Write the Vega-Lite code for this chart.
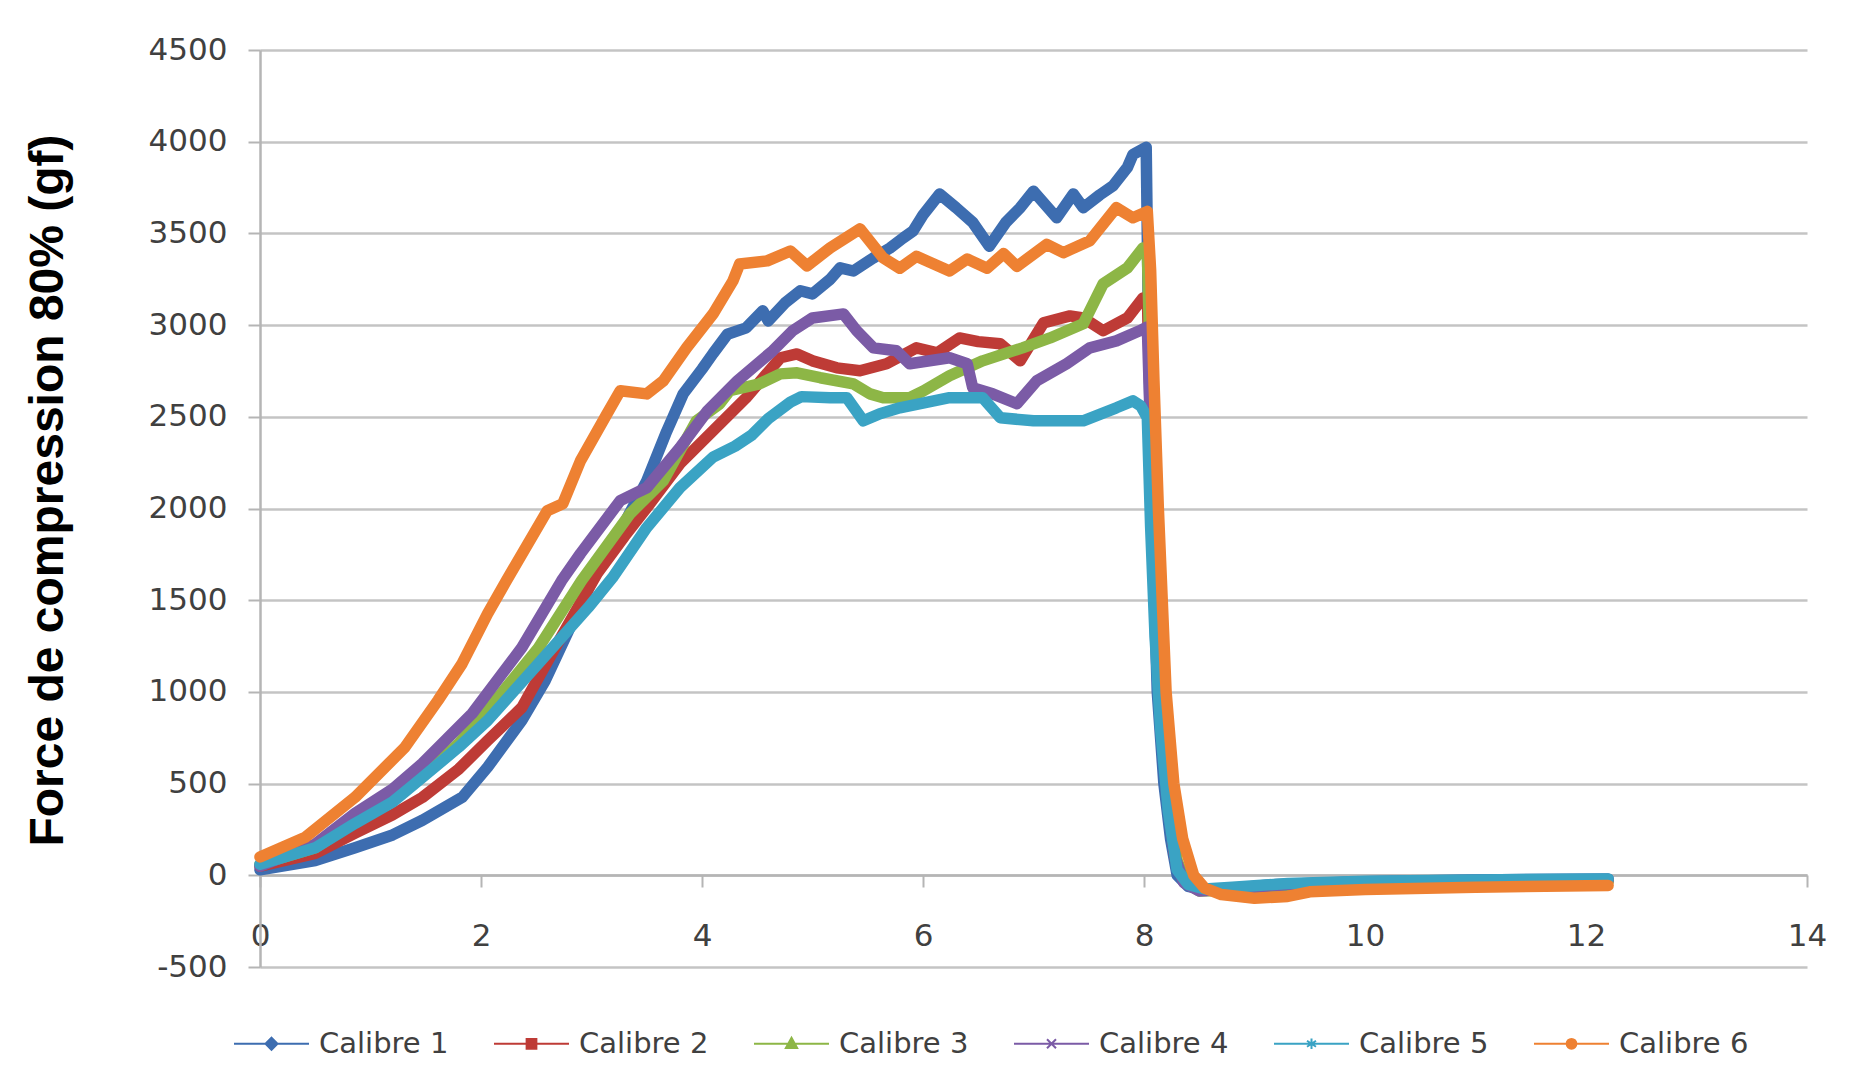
{
  "$schema": "https://vega.github.io/schema/vega-lite/v6.json",
  "width": 1547,
  "height": 917,
  "autosize": {"type": "none"},
  "padding": {"left": 260, "top": 50, "right": 66, "bottom": 123},
  "background": "white",
  "config": {"view": {"stroke": null}, "font": "DejaVu Sans"},
  "datasets": {
    "pts": [
      {"s":"Calibre 1","x":0,"y":30},{"s":"Calibre 1","x":0.5,"y":80},{"s":"Calibre 1","x":0.86,"y":150},{"s":"Calibre 1","x":1.2,"y":220},{"s":"Calibre 1","x":1.47,"y":300},{"s":"Calibre 1","x":1.83,"y":425},{"s":"Calibre 1","x":2.06,"y":590},{"s":"Calibre 1","x":2.37,"y":845},{"s":"Calibre 1","x":2.58,"y":1060},{"s":"Calibre 1","x":2.82,"y":1370},{"s":"Calibre 1","x":3.0,"y":1600},{"s":"Calibre 1","x":3.2,"y":1800},{"s":"Calibre 1","x":3.35,"y":1980},{"s":"Calibre 1","x":3.5,"y":2150},{"s":"Calibre 1","x":3.68,"y":2420},{"s":"Calibre 1","x":3.83,"y":2625},{"s":"Calibre 1","x":4.0,"y":2760},{"s":"Calibre 1","x":4.1,"y":2845},{"s":"Calibre 1","x":4.23,"y":2950},{"s":"Calibre 1","x":4.4,"y":2985},{"s":"Calibre 1","x":4.55,"y":3078},{"s":"Calibre 1","x":4.6,"y":3023},{"s":"Calibre 1","x":4.75,"y":3120},{"s":"Calibre 1","x":4.89,"y":3187},{"s":"Calibre 1","x":5.0,"y":3170},{"s":"Calibre 1","x":5.16,"y":3250},{"s":"Calibre 1","x":5.25,"y":3312},{"s":"Calibre 1","x":5.37,"y":3295},{"s":"Calibre 1","x":5.55,"y":3366},{"s":"Calibre 1","x":5.7,"y":3420},{"s":"Calibre 1","x":5.82,"y":3475},{"s":"Calibre 1","x":5.91,"y":3513},{"s":"Calibre 1","x":6.0,"y":3600},{"s":"Calibre 1","x":6.15,"y":3715},{"s":"Calibre 1","x":6.3,"y":3640},{"s":"Calibre 1","x":6.45,"y":3560},{"s":"Calibre 1","x":6.6,"y":3430},{"s":"Calibre 1","x":6.75,"y":3560},{"s":"Calibre 1","x":6.88,"y":3640},{"s":"Calibre 1","x":7.0,"y":3730},{"s":"Calibre 1","x":7.21,"y":3585},{"s":"Calibre 1","x":7.36,"y":3715},{"s":"Calibre 1","x":7.45,"y":3640},{"s":"Calibre 1","x":7.6,"y":3710},{"s":"Calibre 1","x":7.72,"y":3760},{"s":"Calibre 1","x":7.85,"y":3860},{"s":"Calibre 1","x":7.9,"y":3930},{"s":"Calibre 1","x":8.02,"y":3970},{"s":"Calibre 1","x":8.04,"y":3000},{"s":"Calibre 1","x":8.07,"y":2000},{"s":"Calibre 1","x":8.12,"y":1000},{"s":"Calibre 1","x":8.18,"y":500},{"s":"Calibre 1","x":8.24,"y":200},{"s":"Calibre 1","x":8.3,"y":0},{"s":"Calibre 1","x":8.4,"y":-60},{"s":"Calibre 1","x":8.55,"y":-80},{"s":"Calibre 1","x":8.8,"y":-70},{"s":"Calibre 1","x":9.2,"y":-50},{"s":"Calibre 1","x":10,"y":-35},{"s":"Calibre 1","x":11,"y":-25},{"s":"Calibre 1","x":12.2,"y":-20},

      {"s":"Calibre 2","x":0,"y":50},{"s":"Calibre 2","x":0.5,"y":120},{"s":"Calibre 2","x":0.86,"y":230},{"s":"Calibre 2","x":1.2,"y":330},{"s":"Calibre 2","x":1.47,"y":425},{"s":"Calibre 2","x":1.8,"y":580},{"s":"Calibre 2","x":2.06,"y":735},{"s":"Calibre 2","x":2.37,"y":915},{"s":"Calibre 2","x":2.67,"y":1240},{"s":"Calibre 2","x":3.05,"y":1645},{"s":"Calibre 2","x":3.3,"y":1850},{"s":"Calibre 2","x":3.5,"y":2004},{"s":"Calibre 2","x":3.8,"y":2244},{"s":"Calibre 2","x":4.1,"y":2424},{"s":"Calibre 2","x":4.4,"y":2604},{"s":"Calibre 2","x":4.71,"y":2822},{"s":"Calibre 2","x":4.86,"y":2843},{"s":"Calibre 2","x":5.0,"y":2805},{"s":"Calibre 2","x":5.22,"y":2767},{"s":"Calibre 2","x":5.43,"y":2751},{"s":"Calibre 2","x":5.67,"y":2789},{"s":"Calibre 2","x":5.94,"y":2876},{"s":"Calibre 2","x":6.13,"y":2849},{"s":"Calibre 2","x":6.33,"y":2930},{"s":"Calibre 2","x":6.5,"y":2910},{"s":"Calibre 2","x":6.7,"y":2898},{"s":"Calibre 2","x":6.88,"y":2805},{"s":"Calibre 2","x":7.09,"y":3012},{"s":"Calibre 2","x":7.33,"y":3050},{"s":"Calibre 2","x":7.45,"y":3039},{"s":"Calibre 2","x":7.63,"y":2969},{"s":"Calibre 2","x":7.85,"y":3039},{"s":"Calibre 2","x":7.99,"y":3148},{"s":"Calibre 2","x":8.03,"y":3150},{"s":"Calibre 2","x":8.06,"y":2500},{"s":"Calibre 2","x":8.1,"y":1600},{"s":"Calibre 2","x":8.15,"y":950},{"s":"Calibre 2","x":8.21,"y":450},{"s":"Calibre 2","x":8.28,"y":100},{"s":"Calibre 2","x":8.36,"y":-30},{"s":"Calibre 2","x":8.5,"y":-80},{"s":"Calibre 2","x":8.8,"y":-75},{"s":"Calibre 2","x":9.3,"y":-55},{"s":"Calibre 2","x":10,"y":-45},{"s":"Calibre 2","x":11,"y":-35},{"s":"Calibre 2","x":12.2,"y":-30},

      {"s":"Calibre 3","x":0,"y":60},{"s":"Calibre 3","x":0.5,"y":150},{"s":"Calibre 3","x":0.86,"y":290},{"s":"Calibre 3","x":1.2,"y":420},{"s":"Calibre 3","x":1.47,"y":540},{"s":"Calibre 3","x":1.8,"y":720},{"s":"Calibre 3","x":2.06,"y":900},{"s":"Calibre 3","x":2.52,"y":1240},{"s":"Calibre 3","x":2.91,"y":1607},{"s":"Calibre 3","x":3.35,"y":1972},{"s":"Calibre 3","x":3.65,"y":2152},{"s":"Calibre 3","x":3.95,"y":2478},{"s":"Calibre 3","x":4.16,"y":2571},{"s":"Calibre 3","x":4.25,"y":2642},{"s":"Calibre 3","x":4.52,"y":2680},{"s":"Calibre 3","x":4.71,"y":2734},{"s":"Calibre 3","x":4.86,"y":2740},{"s":"Calibre 3","x":5.07,"y":2713},{"s":"Calibre 3","x":5.37,"y":2680},{"s":"Calibre 3","x":5.52,"y":2625},{"s":"Calibre 3","x":5.64,"y":2604},{"s":"Calibre 3","x":5.88,"y":2604},{"s":"Calibre 3","x":6.0,"y":2640},{"s":"Calibre 3","x":6.24,"y":2724},{"s":"Calibre 3","x":6.54,"y":2805},{"s":"Calibre 3","x":6.9,"y":2876},{"s":"Calibre 3","x":7.15,"y":2930},{"s":"Calibre 3","x":7.45,"y":3007},{"s":"Calibre 3","x":7.63,"y":3225},{"s":"Calibre 3","x":7.85,"y":3312},{"s":"Calibre 3","x":7.99,"y":3420},{"s":"Calibre 3","x":8.03,"y":3400},{"s":"Calibre 3","x":8.06,"y":2700},{"s":"Calibre 3","x":8.1,"y":1800},{"s":"Calibre 3","x":8.15,"y":1050},{"s":"Calibre 3","x":8.22,"y":480},{"s":"Calibre 3","x":8.3,"y":80},{"s":"Calibre 3","x":8.38,"y":-40},{"s":"Calibre 3","x":8.5,"y":-85},{"s":"Calibre 3","x":8.8,"y":-80},{"s":"Calibre 3","x":9.3,"y":-60},{"s":"Calibre 3","x":10,"y":-45},{"s":"Calibre 3","x":11,"y":-38},{"s":"Calibre 3","x":12.2,"y":-35},

      {"s":"Calibre 4","x":0,"y":50},{"s":"Calibre 4","x":0.5,"y":170},{"s":"Calibre 4","x":0.86,"y":338},{"s":"Calibre 4","x":1.2,"y":470},{"s":"Calibre 4","x":1.47,"y":610},{"s":"Calibre 4","x":1.92,"y":882},{"s":"Calibre 4","x":2.37,"y":1242},{"s":"Calibre 4","x":2.73,"y":1607},{"s":"Calibre 4","x":2.9,"y":1754},{"s":"Calibre 4","x":3.26,"y":2043},{"s":"Calibre 4","x":3.5,"y":2113},{"s":"Calibre 4","x":3.8,"y":2331},{"s":"Calibre 4","x":4.05,"y":2533},{"s":"Calibre 4","x":4.32,"y":2696},{"s":"Calibre 4","x":4.64,"y":2860},{"s":"Calibre 4","x":4.82,"y":2969},{"s":"Calibre 4","x":5.0,"y":3039},{"s":"Calibre 4","x":5.28,"y":3061},{"s":"Calibre 4","x":5.4,"y":2969},{"s":"Calibre 4","x":5.55,"y":2876},{"s":"Calibre 4","x":5.76,"y":2860},{"s":"Calibre 4","x":5.88,"y":2789},{"s":"Calibre 4","x":6.24,"y":2822},{"s":"Calibre 4","x":6.4,"y":2789},{"s":"Calibre 4","x":6.45,"y":2658},{"s":"Calibre 4","x":6.63,"y":2625},{"s":"Calibre 4","x":6.85,"y":2571},{"s":"Calibre 4","x":7.03,"y":2696},{"s":"Calibre 4","x":7.3,"y":2789},{"s":"Calibre 4","x":7.51,"y":2876},{"s":"Calibre 4","x":7.75,"y":2914},{"s":"Calibre 4","x":7.96,"y":2969},{"s":"Calibre 4","x":8.03,"y":2990},{"s":"Calibre 4","x":8.06,"y":2400},{"s":"Calibre 4","x":8.1,"y":1600},{"s":"Calibre 4","x":8.15,"y":950},{"s":"Calibre 4","x":8.21,"y":450},{"s":"Calibre 4","x":8.28,"y":100},{"s":"Calibre 4","x":8.36,"y":-40},{"s":"Calibre 4","x":8.5,"y":-85},{"s":"Calibre 4","x":8.8,"y":-75},{"s":"Calibre 4","x":9.3,"y":-50},{"s":"Calibre 4","x":10,"y":-35},{"s":"Calibre 4","x":11,"y":-28},{"s":"Calibre 4","x":12.2,"y":-25},

      {"s":"Calibre 5","x":0,"y":60},{"s":"Calibre 5","x":0.5,"y":150},{"s":"Calibre 5","x":0.86,"y":283},{"s":"Calibre 5","x":1.2,"y":400},{"s":"Calibre 5","x":1.47,"y":534},{"s":"Calibre 5","x":1.8,"y":700},{"s":"Calibre 5","x":2.06,"y":844},{"s":"Calibre 5","x":2.52,"y":1155},{"s":"Calibre 5","x":2.97,"y":1460},{"s":"Calibre 5","x":3.19,"y":1623},{"s":"Calibre 5","x":3.5,"y":1896},{"s":"Calibre 5","x":3.8,"y":2113},{"s":"Calibre 5","x":4.1,"y":2280},{"s":"Calibre 5","x":4.3,"y":2340},{"s":"Calibre 5","x":4.45,"y":2400},{"s":"Calibre 5","x":4.6,"y":2490},{"s":"Calibre 5","x":4.8,"y":2580},{"s":"Calibre 5","x":4.9,"y":2610},{"s":"Calibre 5","x":5.16,"y":2604},{"s":"Calibre 5","x":5.31,"y":2604},{"s":"Calibre 5","x":5.46,"y":2478},{"s":"Calibre 5","x":5.61,"y":2517},{"s":"Calibre 5","x":5.79,"y":2549},{"s":"Calibre 5","x":6.24,"y":2604},{"s":"Calibre 5","x":6.54,"y":2604},{"s":"Calibre 5","x":6.7,"y":2495},{"s":"Calibre 5","x":7.0,"y":2478},{"s":"Calibre 5","x":7.45,"y":2478},{"s":"Calibre 5","x":7.75,"y":2549},{"s":"Calibre 5","x":7.9,"y":2587},{"s":"Calibre 5","x":7.97,"y":2560},{"s":"Calibre 5","x":8.03,"y":2495},{"s":"Calibre 5","x":8.06,"y":1900},{"s":"Calibre 5","x":8.1,"y":1300},{"s":"Calibre 5","x":8.15,"y":800},{"s":"Calibre 5","x":8.22,"y":350},{"s":"Calibre 5","x":8.3,"y":30},{"s":"Calibre 5","x":8.4,"y":-50},{"s":"Calibre 5","x":8.55,"y":-75},{"s":"Calibre 5","x":8.8,"y":-65},{"s":"Calibre 5","x":9.3,"y":-45},{"s":"Calibre 5","x":10,"y":-32},{"s":"Calibre 5","x":11,"y":-25},{"s":"Calibre 5","x":12.2,"y":-20},

      {"s":"Calibre 6","x":0,"y":100},{"s":"Calibre 6","x":0.41,"y":207},{"s":"Calibre 6","x":0.86,"y":425},{"s":"Calibre 6","x":1.31,"y":697},{"s":"Calibre 6","x":1.61,"y":953},{"s":"Calibre 6","x":1.83,"y":1155},{"s":"Calibre 6","x":2.06,"y":1427},{"s":"Calibre 6","x":2.23,"y":1607},{"s":"Calibre 6","x":2.6,"y":1988},{"s":"Calibre 6","x":2.74,"y":2026},{"s":"Calibre 6","x":2.9,"y":2260},{"s":"Calibre 6","x":3.14,"y":2516},{"s":"Calibre 6","x":3.26,"y":2642},{"s":"Calibre 6","x":3.5,"y":2625},{"s":"Calibre 6","x":3.65,"y":2696},{"s":"Calibre 6","x":3.86,"y":2876},{"s":"Calibre 6","x":4.1,"y":3061},{"s":"Calibre 6","x":4.28,"y":3241},{"s":"Calibre 6","x":4.34,"y":3333},{"s":"Calibre 6","x":4.59,"y":3350},{"s":"Calibre 6","x":4.8,"y":3404},{"s":"Calibre 6","x":4.95,"y":3323},{"s":"Calibre 6","x":5.16,"y":3421},{"s":"Calibre 6","x":5.43,"y":3525},{"s":"Calibre 6","x":5.64,"y":3366},{"s":"Calibre 6","x":5.79,"y":3310},{"s":"Calibre 6","x":5.94,"y":3375},{"s":"Calibre 6","x":6.24,"y":3295},{"s":"Calibre 6","x":6.4,"y":3360},{"s":"Calibre 6","x":6.58,"y":3310},{"s":"Calibre 6","x":6.73,"y":3390},{"s":"Calibre 6","x":6.85,"y":3320},{"s":"Calibre 6","x":7.12,"y":3440},{"s":"Calibre 6","x":7.27,"y":3395},{"s":"Calibre 6","x":7.51,"y":3460},{"s":"Calibre 6","x":7.75,"y":3640},{"s":"Calibre 6","x":7.9,"y":3585},{"s":"Calibre 6","x":8.03,"y":3620},{"s":"Calibre 6","x":8.06,"y":3300},{"s":"Calibre 6","x":8.09,"y":2700},{"s":"Calibre 6","x":8.13,"y":2000},{"s":"Calibre 6","x":8.2,"y":1000},{"s":"Calibre 6","x":8.27,"y":500},{"s":"Calibre 6","x":8.35,"y":200},{"s":"Calibre 6","x":8.45,"y":0},{"s":"Calibre 6","x":8.55,"y":-70},{"s":"Calibre 6","x":8.7,"y":-105},{"s":"Calibre 6","x":9,"y":-125},{"s":"Calibre 6","x":9.3,"y":-115},{"s":"Calibre 6","x":9.5,"y":-90},{"s":"Calibre 6","x":10,"y":-78},{"s":"Calibre 6","x":11,"y":-65},{"s":"Calibre 6","x":12.2,"y":-55}
    ]
  },
  "data": {"name": "pts"},
  "mark": {"type": "line", "strokeWidth": 11.5, "strokeJoin": "round", "strokeCap": "round"},
  "encoding": {
    "x": {
      "field": "x", "type": "quantitative",
      "scale": {"domain": [0, 14], "nice": false, "zero": false},
      "axis": {
        "values": [0, 2, 4, 6, 8, 10, 12, 14], "title": null, "grid": false, "offset": -92,
        "domainColor": "#b5b5b5", "domainWidth": 2.5, "tickColor": "#b5b5b5", "tickWidth": 2, "tickSize": 12,
        "labelFont": "DejaVu Sans", "labelFontSize": 31, "labelColor": "#404040", "labelPadding": 34,
        "labelFlush": false, "labelOverlap": false
      }
    },
    "y": {
      "field": "y", "type": "quantitative",
      "scale": {"domain": [-500, 4500], "nice": false, "zero": false},
      "axis": {
        "values": [-500, 0, 500, 1000, 1500, 2000, 2500, 3000, 3500, 4000, 4500],
        "labelExpr": "toString(datum.value)",
        "title": "Force de compression 80% (gf)", "titleFont": "Liberation Sans", "titleFontSize": 48,
        "titleFontWeight": "bold", "titleColor": "#000000", "titleAngle": -90, "titleX": -212, "titleY": 440,
        "titleAlign": "center", "titleBaseline": "middle",
        "grid": true, "gridColor": "#c4c4c4", "gridWidth": 2.5,
        "domainColor": "#b5b5b5", "domainWidth": 2.5, "tickColor": "#b5b5b5", "tickWidth": 2, "tickSize": 12,
        "labelFont": "DejaVu Sans", "labelFontSize": 31, "labelColor": "#404040", "labelPadding": 21,
        "labelFlush": false, "labelOverlap": false
      }
    },
    "color": {
      "field": "s", "type": "nominal",
      "scale": {
        "domain": ["Calibre 1", "Calibre 2", "Calibre 3", "Calibre 4", "Calibre 5", "Calibre 6"],
        "range": ["#3D6DB0", "#BE3B36", "#8DB646", "#7B5BA6", "#3AA3C4", "#EE8132"]
      },
      "legend": {
        "orient": "none", "legendX": -27, "legendY": 955, "direction": "horizontal", "columns": 6,
        "title": null, "labelFont": "DejaVu Sans", "labelFontSize": 29, "labelColor": "#404040",
        "symbolType": "M-1,0H1", "symbolSize": 5625, "symbolStrokeWidth": 2, "labelOffset": 9,
        "columnPadding": 41,
        "encode": {
          "symbols": {
            "update": {
              "shape": {"signal": "datum.value === 'Calibre 1' ? 'M-1,0H1M0,-0.16L0.16,0L0,0.16L-0.16,0Z' : datum.value === 'Calibre 2' ? 'M-1,0H1M-0.13,-0.13H0.13V0.13H-0.13Z' : datum.value === 'Calibre 3' ? 'M-1,0H1M0,-0.16L0.15,0.11H-0.15Z' : datum.value === 'Calibre 4' ? 'M-1,0H1M-0.12,-0.12L0.12,0.12M-0.12,0.12L0.12,-0.12' : datum.value === 'Calibre 5' ? 'M-1,0H1M0,-0.14V0.14M-0.12,-0.08L0.12,0.08M-0.12,0.08L0.12,-0.08' : 'M-1,0H1M-0.13,0A0.13,0.13 0 1 0 0.13,0A0.13,0.13 0 1 0 -0.13,0Z'"},
              "fill": {"scale": "color", "field": "value"},
              "stroke": {"scale": "color", "field": "value"},
              "strokeWidth": {"value": 2},
              "opacity": {"value": 1}
            }
          }
        }
      }
    }
  }
}
